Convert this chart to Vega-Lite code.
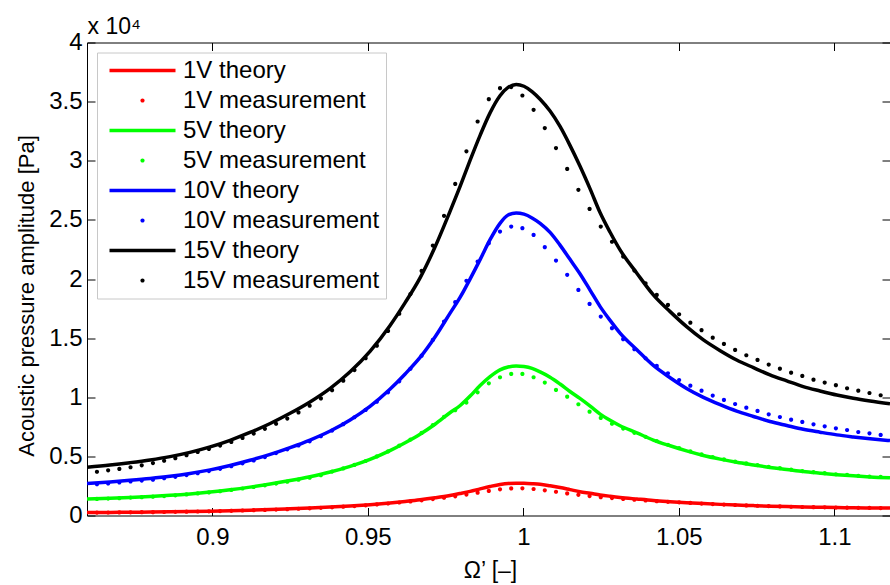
{
"$schema": "https://vega.github.io/schema/vega-lite/v6.json",
"width": 803, "height": 473,
"autosize": {"type": "none"},
"padding": {"left": 87, "top": 42.5, "right": 0, "bottom": 69.5},
"background": "white",
"config": {
  "font": "Liberation Sans",
  "view": {"stroke": null},
  "axis": {"grid": false, "domainColor": "#000000", "tickColor": "#000000", "labelColor": "#000000", "titleColor": "#000000", "labelFontSize": 24, "titleFontSize": 22, "titleFontWeight": "normal", "labelFont": "Liberation Sans", "titleFont": "Liberation Sans", "tickSize": -8, "domainWidth": 1, "tickWidth": 1},
  "legend": {"orient": "top-left", "offset": 10, "padding": 6, "fillColor": "#ffffff", "strokeColor": "#c8c8c8", "strokeWidth": 1, "labelFontSize": 24, "labelFont": "Liberation Sans", "labelColor": "#000000", "symbolSize": 100, "symbolOffset": 27.5, "labelOffset": 28.5, "rowPadding": 6, "symbolStrokeWidth": 0, "labelLimit": 400}
},
"datasets": {
"theory": [
{"w":0.8597,"k":"1V theory","p":245},{"w":0.8671,"k":"1V theory","p":260},{"w":0.8735,"k":"1V theory","p":276},{"w":0.88,"k":"1V theory","p":291},{"w":0.8864,"k":"1V theory","p":311},{"w":0.8928,"k":"1V theory","p":336},{"w":0.8993,"k":"1V theory","p":367},{"w":0.9057,"k":"1V theory","p":405},{"w":0.9121,"k":"1V theory","p":449},{"w":0.9186,"k":"1V theory","p":502},{"w":0.925,"k":"1V theory","p":562},{"w":0.9314,"k":"1V theory","p":629},{"w":0.9379,"k":"1V theory","p":710},{"w":0.9443,"k":"1V theory","p":802},{"w":0.9507,"k":"1V theory","p":916},{"w":0.9571,"k":"1V theory","p":1059},{"w":0.962,"k":"1V theory","p":1188},{"w":0.9668,"k":"1V theory","p":1327},{"w":0.9716,"k":"1V theory","p":1498},{"w":0.9764,"k":"1V theory","p":1696},{"w":0.9797,"k":"1V theory","p":1866},{"w":0.9829,"k":"1V theory","p":2043},{"w":0.9861,"k":"1V theory","p":2251},{"w":0.9893,"k":"1V theory","p":2452},{"w":0.9925,"k":"1V theory","p":2627},{"w":0.9951,"k":"1V theory","p":2715},{"w":0.9977,"k":"1V theory","p":2734},{"w":1.0002,"k":"1V theory","p":2723},{"w":1.0028,"k":"1V theory","p":2689},{"w":1.0054,"k":"1V theory","p":2640},{"w":1.0086,"k":"1V theory","p":2514},{"w":1.0118,"k":"1V theory","p":2369},{"w":1.015,"k":"1V theory","p":2191},{"w":1.0182,"k":"1V theory","p":2009},{"w":1.0215,"k":"1V theory","p":1877},{"w":1.0247,"k":"1V theory","p":1741},{"w":1.0279,"k":"1V theory","p":1629},{"w":1.0311,"k":"1V theory","p":1527},{"w":1.0365,"k":"1V theory","p":1393},{"w":1.0418,"k":"1V theory","p":1269},{"w":1.0472,"k":"1V theory","p":1172},{"w":1.0525,"k":"1V theory","p":1086},{"w":1.0579,"k":"1V theory","p":1010},{"w":1.0633,"k":"1V theory","p":941},{"w":1.0686,"k":"1V theory","p":881},{"w":1.074,"k":"1V theory","p":838},{"w":1.0793,"k":"1V theory","p":791},{"w":1.0847,"k":"1V theory","p":751},{"w":1.09,"k":"1V theory","p":719},{"w":1.0954,"k":"1V theory","p":695},{"w":1.1008,"k":"1V theory","p":673},{"w":1.1061,"k":"1V theory","p":655},{"w":1.1115,"k":"1V theory","p":640},{"w":1.1179,"k":"1V theory","p":624},
{"w":0.8597,"k":"5V theory","p":1395},{"w":0.8671,"k":"5V theory","p":1460},{"w":0.8735,"k":"5V theory","p":1529},{"w":0.88,"k":"5V theory","p":1607},{"w":0.8864,"k":"5V theory","p":1703},{"w":0.8928,"k":"5V theory","p":1826},{"w":0.8993,"k":"5V theory","p":1984},{"w":0.9057,"k":"5V theory","p":2175},{"w":0.9121,"k":"5V theory","p":2401},{"w":0.9186,"k":"5V theory","p":2661},{"w":0.925,"k":"5V theory","p":2955},{"w":0.9314,"k":"5V theory","p":3283},{"w":0.9379,"k":"5V theory","p":3677},{"w":0.9443,"k":"5V theory","p":4155},{"w":0.9507,"k":"5V theory","p":4747},{"w":0.9571,"k":"5V theory","p":5489},{"w":0.962,"k":"5V theory","p":6156},{"w":0.9668,"k":"5V theory","p":6874},{"w":0.9716,"k":"5V theory","p":7718},{"w":0.9764,"k":"5V theory","p":8687},{"w":0.9797,"k":"5V theory","p":9302},{"w":0.9829,"k":"5V theory","p":10097},{"w":0.9861,"k":"5V theory","p":10995},{"w":0.9893,"k":"5V theory","p":11747},{"w":0.9925,"k":"5V theory","p":12319},{"w":0.9951,"k":"5V theory","p":12561},{"w":0.9977,"k":"5V theory","p":12648},{"w":1.0002,"k":"5V theory","p":12596},{"w":1.0028,"k":"5V theory","p":12440},{"w":1.0054,"k":"5V theory","p":12144},{"w":1.0086,"k":"5V theory","p":11696},{"w":1.0118,"k":"5V theory","p":11120},{"w":1.015,"k":"5V theory","p":10486},{"w":1.0182,"k":"5V theory","p":9899},{"w":1.0215,"k":"5V theory","p":9246},{"w":1.0247,"k":"5V theory","p":8576},{"w":1.0279,"k":"5V theory","p":8047},{"w":1.0311,"k":"5V theory","p":7591},{"w":1.0365,"k":"5V theory","p":6987},{"w":1.0418,"k":"5V theory","p":6382},{"w":1.0472,"k":"5V theory","p":5896},{"w":1.0525,"k":"5V theory","p":5462},{"w":1.0579,"k":"5V theory","p":5079},{"w":1.0633,"k":"5V theory","p":4767},{"w":1.0686,"k":"5V theory","p":4497},{"w":1.074,"k":"5V theory","p":4275},{"w":1.0793,"k":"5V theory","p":4066},{"w":1.0847,"k":"5V theory","p":3892},{"w":1.09,"k":"5V theory","p":3717},{"w":1.0954,"k":"5V theory","p":3580},{"w":1.1008,"k":"5V theory","p":3454},{"w":1.1061,"k":"5V theory","p":3353},{"w":1.1115,"k":"5V theory","p":3266},{"w":1.1179,"k":"5V theory","p":3194},
{"w":0.8597,"k":"10V theory","p":2713},{"w":0.8671,"k":"10V theory","p":2840},{"w":0.8735,"k":"10V theory","p":2973},{"w":0.88,"k":"10V theory","p":3126},{"w":0.8864,"k":"10V theory","p":3312},{"w":0.8928,"k":"10V theory","p":3551},{"w":0.8993,"k":"10V theory","p":3857},{"w":0.9057,"k":"10V theory","p":4229},{"w":0.9121,"k":"10V theory","p":4668},{"w":0.9186,"k":"10V theory","p":5174},{"w":0.925,"k":"10V theory","p":5746},{"w":0.9314,"k":"10V theory","p":6384},{"w":0.9379,"k":"10V theory","p":7149},{"w":0.9443,"k":"10V theory","p":8080},{"w":0.9507,"k":"10V theory","p":9230},{"w":0.9571,"k":"10V theory","p":10673},{"w":0.962,"k":"10V theory","p":11970},{"w":0.9668,"k":"10V theory","p":13367},{"w":0.9716,"k":"10V theory","p":15096},{"w":0.9764,"k":"10V theory","p":17091},{"w":0.9797,"k":"10V theory","p":18465},{"w":0.9829,"k":"10V theory","p":20013},{"w":0.9861,"k":"10V theory","p":21637},{"w":0.9893,"k":"10V theory","p":23324},{"w":0.9925,"k":"10V theory","p":24708},{"w":0.9951,"k":"10V theory","p":25412},{"w":0.9977,"k":"10V theory","p":25588},{"w":1.0002,"k":"10V theory","p":25483},{"w":1.0028,"k":"10V theory","p":25167},{"w":1.0054,"k":"10V theory","p":24710},{"w":1.0086,"k":"10V theory","p":23940},{"w":1.0118,"k":"10V theory","p":22866},{"w":1.015,"k":"10V theory","p":21660},{"w":1.0182,"k":"10V theory","p":20449},{"w":1.0215,"k":"10V theory","p":19044},{"w":1.0247,"k":"10V theory","p":17664},{"w":1.0279,"k":"10V theory","p":16502},{"w":1.0311,"k":"10V theory","p":15430},{"w":1.0365,"k":"10V theory","p":14015},{"w":1.0418,"k":"10V theory","p":12689},{"w":1.0472,"k":"10V theory","p":11654},{"w":1.0525,"k":"10V theory","p":10748},{"w":1.0579,"k":"10V theory","p":9994},{"w":1.0633,"k":"10V theory","p":9368},{"w":1.0686,"k":"10V theory","p":8824},{"w":1.074,"k":"10V theory","p":8375},{"w":1.0793,"k":"10V theory","p":7954},{"w":1.0847,"k":"10V theory","p":7613},{"w":1.09,"k":"10V theory","p":7292},{"w":1.0954,"k":"10V theory","p":7045},{"w":1.1008,"k":"10V theory","p":6817},{"w":1.1061,"k":"10V theory","p":6646},{"w":1.1115,"k":"10V theory","p":6492},{"w":1.1179,"k":"10V theory","p":6332},
{"w":0.8597,"k":"15V theory","p":4080},{"w":0.8671,"k":"15V theory","p":4270},{"w":0.8735,"k":"15V theory","p":4470},{"w":0.88,"k":"15V theory","p":4700},{"w":0.8864,"k":"15V theory","p":4980},{"w":0.8928,"k":"15V theory","p":5340},{"w":0.8993,"k":"15V theory","p":5800},{"w":0.9057,"k":"15V theory","p":6360},{"w":0.9121,"k":"15V theory","p":7020},{"w":0.9186,"k":"15V theory","p":7780},{"w":0.925,"k":"15V theory","p":8640},{"w":0.9314,"k":"15V theory","p":9600},{"w":0.9379,"k":"15V theory","p":10750},{"w":0.9443,"k":"15V theory","p":12150},{"w":0.9507,"k":"15V theory","p":13880},{"w":0.9571,"k":"15V theory","p":16050},{"w":0.962,"k":"15V theory","p":18000},{"w":0.9668,"k":"15V theory","p":20100},{"w":0.9716,"k":"15V theory","p":22700},{"w":0.9764,"k":"15V theory","p":25700},{"w":0.9797,"k":"15V theory","p":27850},{"w":0.9829,"k":"15V theory","p":30050},{"w":0.9861,"k":"15V theory","p":32150},{"w":0.9893,"k":"15V theory","p":34050},{"w":0.9925,"k":"15V theory","p":35500},{"w":0.9951,"k":"15V theory","p":36200},{"w":0.9977,"k":"15V theory","p":36450},{"w":1.0002,"k":"15V theory","p":36300},{"w":1.0028,"k":"15V theory","p":35850},{"w":1.0054,"k":"15V theory","p":35200},{"w":1.0086,"k":"15V theory","p":34200},{"w":1.0118,"k":"15V theory","p":32900},{"w":1.015,"k":"15V theory","p":31300},{"w":1.0182,"k":"15V theory","p":29550},{"w":1.0215,"k":"15V theory","p":27600},{"w":1.0247,"k":"15V theory","p":25600},{"w":1.0279,"k":"15V theory","p":23950},{"w":1.0311,"k":"15V theory","p":22460},{"w":1.0365,"k":"15V theory","p":20490},{"w":1.0418,"k":"15V theory","p":18660},{"w":1.0472,"k":"15V theory","p":17240},{"w":1.0525,"k":"15V theory","p":15970},{"w":1.0579,"k":"15V theory","p":14850},{"w":1.0633,"k":"15V theory","p":13940},{"w":1.0686,"k":"15V theory","p":13150},{"w":1.074,"k":"15V theory","p":12500},{"w":1.0793,"k":"15V theory","p":11890},{"w":1.0847,"k":"15V theory","p":11380},{"w":1.09,"k":"15V theory","p":10900},{"w":1.0954,"k":"15V theory","p":10530},{"w":1.1008,"k":"15V theory","p":10190},{"w":1.1061,"k":"15V theory","p":9920},{"w":1.1115,"k":"15V theory","p":9690},{"w":1.1179,"k":"15V theory","p":9450}
],
"meas": [
{"w":0.8629,"k":"1V measurement","p":244},{"w":0.8665,"k":"1V measurement","p":252},{"w":0.8701,"k":"1V measurement","p":261},{"w":0.8737,"k":"1V measurement","p":270},{"w":0.8773,"k":"1V measurement","p":277},{"w":0.8809,"k":"1V measurement","p":285},{"w":0.8845,"k":"1V measurement","p":298},{"w":0.8881,"k":"1V measurement","p":310},{"w":0.8917,"k":"1V measurement","p":325},{"w":0.8953,"k":"1V measurement","p":340},{"w":0.8989,"k":"1V measurement","p":357},{"w":0.9025,"k":"1V measurement","p":377},{"w":0.9061,"k":"1V measurement","p":399},{"w":0.9097,"k":"1V measurement","p":422},{"w":0.9133,"k":"1V measurement","p":447},{"w":0.9169,"k":"1V measurement","p":475},{"w":0.9205,"k":"1V measurement","p":505},{"w":0.9241,"k":"1V measurement","p":537},{"w":0.9277,"k":"1V measurement","p":572},{"w":0.9313,"k":"1V measurement","p":606},{"w":0.9349,"k":"1V measurement","p":650},{"w":0.9385,"k":"1V measurement","p":695},{"w":0.9421,"k":"1V measurement","p":745},{"w":0.9457,"k":"1V measurement","p":800},{"w":0.9493,"k":"1V measurement","p":863},{"w":0.9529,"k":"1V measurement","p":936},{"w":0.9565,"k":"1V measurement","p":1015},{"w":0.9601,"k":"1V measurement","p":1100},{"w":0.9637,"k":"1V measurement","p":1190},{"w":0.9673,"k":"1V measurement","p":1280},{"w":0.9709,"k":"1V measurement","p":1390},{"w":0.9745,"k":"1V measurement","p":1500},{"w":0.9781,"k":"1V measurement","p":1620},{"w":0.9817,"k":"1V measurement","p":1770},{"w":0.9853,"k":"1V measurement","p":1930},{"w":0.9889,"k":"1V measurement","p":2080},{"w":0.9925,"k":"1V measurement","p":2210},{"w":0.9961,"k":"1V measurement","p":2290},{"w":0.9997,"k":"1V measurement","p":2300},{"w":1.0033,"k":"1V measurement","p":2240},{"w":1.0069,"k":"1V measurement","p":2130},{"w":1.0105,"k":"1V measurement","p":2010},{"w":1.0141,"k":"1V measurement","p":1870},{"w":1.0177,"k":"1V measurement","p":1750},{"w":1.0213,"k":"1V measurement","p":1640},{"w":1.0249,"k":"1V measurement","p":1550},{"w":1.0285,"k":"1V measurement","p":1470},{"w":1.0321,"k":"1V measurement","p":1400},{"w":1.0357,"k":"1V measurement","p":1330},{"w":1.0393,"k":"1V measurement","p":1270},{"w":1.0429,"k":"1V measurement","p":1210},{"w":1.0465,"k":"1V measurement","p":1160},{"w":1.0501,"k":"1V measurement","p":1110},{"w":1.0537,"k":"1V measurement","p":1060},{"w":1.0573,"k":"1V measurement","p":1010},{"w":1.0609,"k":"1V measurement","p":970},{"w":1.0645,"k":"1V measurement","p":926},{"w":1.0681,"k":"1V measurement","p":886},{"w":1.0717,"k":"1V measurement","p":855},{"w":1.0753,"k":"1V measurement","p":824},{"w":1.0789,"k":"1V measurement","p":794},{"w":1.0825,"k":"1V measurement","p":765},{"w":1.0861,"k":"1V measurement","p":742},{"w":1.0897,"k":"1V measurement","p":720},{"w":1.0933,"k":"1V measurement","p":704},{"w":1.0969,"k":"1V measurement","p":688},{"w":1.1005,"k":"1V measurement","p":674},{"w":1.1041,"k":"1V measurement","p":661},{"w":1.1077,"k":"1V measurement","p":650},{"w":1.1113,"k":"1V measurement","p":640},{"w":1.1149,"k":"1V measurement","p":631},
{"w":0.8629,"k":"5V measurement","p":1398},{"w":0.8665,"k":"5V measurement","p":1428},{"w":0.8701,"k":"5V measurement","p":1468},{"w":0.8737,"k":"5V measurement","p":1512},{"w":0.8773,"k":"5V measurement","p":1549},{"w":0.8809,"k":"5V measurement","p":1589},{"w":0.8845,"k":"5V measurement","p":1646},{"w":0.8881,"k":"5V measurement","p":1710},{"w":0.8917,"k":"5V measurement","p":1783},{"w":0.8953,"k":"5V measurement","p":1864},{"w":0.8989,"k":"5V measurement","p":1954},{"w":0.9025,"k":"5V measurement","p":2051},{"w":0.9061,"k":"5V measurement","p":2162},{"w":0.9097,"k":"5V measurement","p":2283},{"w":0.9133,"k":"5V measurement","p":2410},{"w":0.9169,"k":"5V measurement","p":2551},{"w":0.9205,"k":"5V measurement","p":2702},{"w":0.9241,"k":"5V measurement","p":2863},{"w":0.9277,"k":"5V measurement","p":3030},{"w":0.9313,"k":"5V measurement","p":3198},{"w":0.9349,"k":"5V measurement","p":3412},{"w":0.9385,"k":"5V measurement","p":3711},{"w":0.9421,"k":"5V measurement","p":3981},{"w":0.9457,"k":"5V measurement","p":4275},{"w":0.9493,"k":"5V measurement","p":4610},{"w":0.9529,"k":"5V measurement","p":5000},{"w":0.9565,"k":"5V measurement","p":5421},{"w":0.9601,"k":"5V measurement","p":5906},{"w":0.9637,"k":"5V measurement","p":6423},{"w":0.9673,"k":"5V measurement","p":6980},{"w":0.9709,"k":"5V measurement","p":7644},{"w":0.9745,"k":"5V measurement","p":8350},{"w":0.9781,"k":"5V measurement","p":8900},{"w":0.9817,"k":"5V measurement","p":9550},{"w":0.9853,"k":"5V measurement","p":10420},{"w":0.9889,"k":"5V measurement","p":11180},{"w":0.9925,"k":"5V measurement","p":11690},{"w":0.9961,"k":"5V measurement","p":11970},{"w":0.9997,"k":"5V measurement","p":11970},{"w":1.0033,"k":"5V measurement","p":11690},{"w":1.0069,"k":"5V measurement","p":11240},{"w":1.0105,"k":"5V measurement","p":10620},{"w":1.0141,"k":"5V measurement","p":10050},{"w":1.0177,"k":"5V measurement","p":9410},{"w":1.0213,"k":"5V measurement","p":8780},{"w":1.0249,"k":"5V measurement","p":8250},{"w":1.0285,"k":"5V measurement","p":7760},{"w":1.0321,"k":"5V measurement","p":7350},{"w":1.0357,"k":"5V measurement","p":6990},{"w":1.0393,"k":"5V measurement","p":6650},{"w":1.0429,"k":"5V measurement","p":6300},{"w":1.0465,"k":"5V measurement","p":5985},{"w":1.0501,"k":"5V measurement","p":5700},{"w":1.0537,"k":"5V measurement","p":5425},{"w":1.0573,"k":"5V measurement","p":5164},{"w":1.0609,"k":"5V measurement","p":4946},{"w":1.0645,"k":"5V measurement","p":4746},{"w":1.0681,"k":"5V measurement","p":4563},{"w":1.0717,"k":"5V measurement","p":4408},{"w":1.0753,"k":"5V measurement","p":4262},{"w":1.0789,"k":"5V measurement","p":4121},{"w":1.0825,"k":"5V measurement","p":4000},{"w":1.0861,"k":"5V measurement","p":3883},{"w":1.0897,"k":"5V measurement","p":3760},{"w":1.0933,"k":"5V measurement","p":3670},{"w":1.0969,"k":"5V measurement","p":3580},{"w":1.1005,"k":"5V measurement","p":3490},{"w":1.1041,"k":"5V measurement","p":3430},{"w":1.1077,"k":"5V measurement","p":3360},{"w":1.1113,"k":"5V measurement","p":3300},{"w":1.1149,"k":"5V measurement","p":3260},
{"w":0.8629,"k":"10V measurement","p":2650},{"w":0.8665,"k":"10V measurement","p":2710},{"w":0.8701,"k":"10V measurement","p":2790},{"w":0.8737,"k":"10V measurement","p":2880},{"w":0.8773,"k":"10V measurement","p":2950},{"w":0.8809,"k":"10V measurement","p":3030},{"w":0.8845,"k":"10V measurement","p":3150},{"w":0.8881,"k":"10V measurement","p":3270},{"w":0.8917,"k":"10V measurement","p":3420},{"w":0.8953,"k":"10V measurement","p":3580},{"w":0.8989,"k":"10V measurement","p":3760},{"w":0.9025,"k":"10V measurement","p":3950},{"w":0.9061,"k":"10V measurement","p":4170},{"w":0.9097,"k":"10V measurement","p":4410},{"w":0.9133,"k":"10V measurement","p":4660},{"w":0.9169,"k":"10V measurement","p":4940},{"w":0.9205,"k":"10V measurement","p":5280},{"w":0.9241,"k":"10V measurement","p":5600},{"w":0.9277,"k":"10V measurement","p":5930},{"w":0.9313,"k":"10V measurement","p":6270},{"w":0.9349,"k":"10V measurement","p":6700},{"w":0.9385,"k":"10V measurement","p":7180},{"w":0.9421,"k":"10V measurement","p":7720},{"w":0.9457,"k":"10V measurement","p":8310},{"w":0.9493,"k":"10V measurement","p":8930},{"w":0.9529,"k":"10V measurement","p":9630},{"w":0.9565,"k":"10V measurement","p":10420},{"w":0.9601,"k":"10V measurement","p":11350},{"w":0.9637,"k":"10V measurement","p":12400},{"w":0.9673,"k":"10V measurement","p":13520},{"w":0.9709,"k":"10V measurement","p":14850},{"w":0.9745,"k":"10V measurement","p":16400},{"w":0.9781,"k":"10V measurement","p":18040},{"w":0.9817,"k":"10V measurement","p":19850},{"w":0.9853,"k":"10V measurement","p":21470},{"w":0.9889,"k":"10V measurement","p":23030},{"w":0.9925,"k":"10V measurement","p":24010},{"w":0.9961,"k":"10V measurement","p":24430},{"w":0.9997,"k":"10V measurement","p":24300},{"w":1.0033,"k":"10V measurement","p":23730},{"w":1.0069,"k":"10V measurement","p":22690},{"w":1.0105,"k":"10V measurement","p":21560},{"w":1.0141,"k":"10V measurement","p":20350},{"w":1.0177,"k":"10V measurement","p":19080},{"w":1.0213,"k":"10V measurement","p":17890},{"w":1.0249,"k":"10V measurement","p":16820},{"w":1.0285,"k":"10V measurement","p":15840},{"w":1.0321,"k":"10V measurement","p":14910},{"w":1.0357,"k":"10V measurement","p":14060},{"w":1.0393,"k":"10V measurement","p":13300},{"w":1.0429,"k":"10V measurement","p":12650},{"w":1.0465,"k":"10V measurement","p":12030},{"w":1.0501,"k":"10V measurement","p":11460},{"w":1.0537,"k":"10V measurement","p":10980},{"w":1.0573,"k":"10V measurement","p":10560},{"w":1.0609,"k":"10V measurement","p":10140},{"w":1.0645,"k":"10V measurement","p":9770},{"w":1.0681,"k":"10V measurement","p":9430},{"w":1.0717,"k":"10V measurement","p":9120},{"w":1.0753,"k":"10V measurement","p":8840},{"w":1.0789,"k":"10V measurement","p":8560},{"w":1.0825,"k":"10V measurement","p":8330},{"w":1.0861,"k":"10V measurement","p":8100},{"w":1.0897,"k":"10V measurement","p":7910},{"w":1.0933,"k":"10V measurement","p":7710},{"w":1.0969,"k":"10V measurement","p":7540},{"w":1.1005,"k":"10V measurement","p":7370},{"w":1.1041,"k":"10V measurement","p":7230},{"w":1.1077,"k":"10V measurement","p":7060},{"w":1.1113,"k":"10V measurement","p":6950},{"w":1.1149,"k":"10V measurement","p":6810},
{"w":0.8629,"k":"15V measurement","p":3700},{"w":0.8665,"k":"15V measurement","p":3820},{"w":0.8701,"k":"15V measurement","p":3940},{"w":0.8737,"k":"15V measurement","p":4080},{"w":0.8773,"k":"15V measurement","p":4240},{"w":0.8809,"k":"15V measurement","p":4430},{"w":0.8845,"k":"15V measurement","p":4630},{"w":0.8881,"k":"15V measurement","p":4850},{"w":0.8917,"k":"15V measurement","p":5100},{"w":0.8953,"k":"15V measurement","p":5370},{"w":0.8989,"k":"15V measurement","p":5630},{"w":0.9025,"k":"15V measurement","p":5910},{"w":0.9061,"k":"15V measurement","p":6220},{"w":0.9097,"k":"15V measurement","p":6560},{"w":0.9133,"k":"15V measurement","p":6930},{"w":0.9169,"k":"15V measurement","p":7330},{"w":0.9205,"k":"15V measurement","p":7760},{"w":0.9241,"k":"15V measurement","p":8200},{"w":0.9277,"k":"15V measurement","p":8720},{"w":0.9313,"k":"15V measurement","p":9280},{"w":0.9349,"k":"15V measurement","p":9900},{"w":0.9385,"k":"15V measurement","p":10600},{"w":0.9421,"k":"15V measurement","p":11400},{"w":0.9457,"k":"15V measurement","p":12300},{"w":0.9493,"k":"15V measurement","p":13300},{"w":0.9529,"k":"15V measurement","p":14360},{"w":0.9565,"k":"15V measurement","p":15610},{"w":0.9601,"k":"15V measurement","p":17070},{"w":0.9637,"k":"15V measurement","p":18730},{"w":0.9673,"k":"15V measurement","p":20680},{"w":0.9709,"k":"15V measurement","p":22830},{"w":0.9745,"k":"15V measurement","p":25340},{"w":0.9781,"k":"15V measurement","p":28040},{"w":0.9817,"k":"15V measurement","p":30800},{"w":0.9853,"k":"15V measurement","p":33320},{"w":0.9889,"k":"15V measurement","p":35210},{"w":0.9925,"k":"15V measurement","p":36140},{"w":0.9961,"k":"15V measurement","p":36230},{"w":0.9997,"k":"15V measurement","p":35520},{"w":1.0033,"k":"15V measurement","p":34310},{"w":1.0069,"k":"15V measurement","p":32760},{"w":1.0105,"k":"15V measurement","p":31070},{"w":1.0141,"k":"15V measurement","p":29310},{"w":1.0177,"k":"15V measurement","p":27540},{"w":1.0213,"k":"15V measurement","p":25930},{"w":1.0249,"k":"15V measurement","p":24430},{"w":1.0285,"k":"15V measurement","p":23150},{"w":1.0321,"k":"15V measurement","p":21900},{"w":1.0357,"k":"15V measurement","p":20710},{"w":1.0393,"k":"15V measurement","p":19640},{"w":1.0429,"k":"15V measurement","p":18650},{"w":1.0465,"k":"15V measurement","p":17810},{"w":1.0501,"k":"15V measurement","p":17020},{"w":1.0537,"k":"15V measurement","p":16310},{"w":1.0573,"k":"15V measurement","p":15670},{"w":1.0609,"k":"15V measurement","p":15040},{"w":1.0645,"k":"15V measurement","p":14510},{"w":1.0681,"k":"15V measurement","p":14000},{"w":1.0717,"k":"15V measurement","p":13550},{"w":1.0753,"k":"15V measurement","p":13160},{"w":1.0789,"k":"15V measurement","p":12760},{"w":1.0825,"k":"15V measurement","p":12420},{"w":1.0861,"k":"15V measurement","p":12080},{"w":1.0897,"k":"15V measurement","p":11800},{"w":1.0933,"k":"15V measurement","p":11490},{"w":1.0969,"k":"15V measurement","p":11240},{"w":1.1005,"k":"15V measurement","p":11020},{"w":1.1041,"k":"15V measurement","p":10760},{"w":1.1077,"k":"15V measurement","p":10560},{"w":1.1113,"k":"15V measurement","p":10360},{"w":1.1149,"k":"15V measurement","p":10170}
]
},
"layer": [
{
  "data": {"name": "theory"},
  "mark": {"type": "line", "strokeWidth": 3.5, "clip": true, "interpolate": "monotone"},
  "encoding": {
    "x": {"field": "w", "type": "quantitative", "scale": {"domain": [0.8597, 1.1179], "nice": false, "zero": false},
      "axis": {"orient": "bottom", "values": [0.9, 0.95, 1, 1.05, 1.1], "labelExpr": "'' + datum.value", "labelPadding": 18, "title": "Ω’ [–]", "titleFontSize": 23, "titleX": 403, "titleY": 62, "titleBaseline": "alphabetic", "titleAlign": "center"}},
    "y": {"field": "p", "type": "quantitative", "scale": {"domain": [0, 40000], "nice": false, "zero": true},
      "axis": {"orient": "left", "values": [0, 5000, 10000, 15000, 20000, 25000, 30000, 35000, 40000], "labelExpr": "'' + datum.value / 10000", "labelPadding": 13, "title": "Acoustic pressure amplitude [Pa]", "titleX": -54, "titleY": 253, "titleAngle": -90, "titleBaseline": "alphabetic", "titleAlign": "center"}},
    "stroke": {"field": "k", "type": "nominal", "scale": {"domain": ["1V theory", "5V theory", "10V theory", "15V theory"], "range": ["#ff0000", "#00ff00", "#0000ff", "#000000"]}, "legend": null}
  }
},
{
  "data": {"name": "meas"},
  "mark": {"type": "point", "filled": true, "size": 100, "opacity": 1, "strokeWidth": 0, "clip": true},
  "encoding": {
    "x": {"field": "w", "type": "quantitative", "axis": {"orient": "top", "values": [0.9, 0.95, 1, 1.05, 1.1], "labels": false, "title": "x 10⁴", "titleFontSize": 23, "titleX": 0, "titleY": -9, "titleAlign": "left", "titleBaseline": "alphabetic", "titleAngle": 0}},
    "y": {"field": "p", "type": "quantitative", "axis": {"orient": "right", "values": [0, 5000, 10000, 15000, 20000, 25000, 30000, 35000, 40000], "labels": false, "title": null}},
    "color": {"field": "k", "type": "nominal",
      "scale": {"domain": ["1V theory", "1V measurement", "5V theory", "5V measurement", "10V theory", "10V measurement", "15V theory", "15V measurement"], "range": ["#ff0000", "#ff0000", "#00ff00", "#00ff00", "#0000ff", "#0000ff", "#000000", "#000000"]},
      "legend": {"title": null}},
    "shape": {"field": "k", "type": "nominal",
      "scale": {"domain": ["1V theory", "1V measurement", "5V theory", "5V measurement", "10V theory", "10V measurement", "15V theory", "15V measurement"], "range": ["M-6.6,-0.36H6.6V0.36H-6.6Z", "M-0.42,0A0.42,0.42,0,1,0,0.42,0A0.42,0.42,0,1,0,-0.42,0Z", "M-6.6,-0.36H6.6V0.36H-6.6Z", "M-0.42,0A0.42,0.42,0,1,0,0.42,0A0.42,0.42,0,1,0,-0.42,0Z", "M-6.6,-0.36H6.6V0.36H-6.6Z", "M-0.42,0A0.42,0.42,0,1,0,0.42,0A0.42,0.42,0,1,0,-0.42,0Z", "M-6.6,-0.36H6.6V0.36H-6.6Z", "M-0.42,0A0.42,0.42,0,1,0,0.42,0A0.42,0.42,0,1,0,-0.42,0Z"]},
      "legend": {"title": null}}
  }
}
],
"resolve": {"axis": {"x": "independent", "y": "independent"}}
}
